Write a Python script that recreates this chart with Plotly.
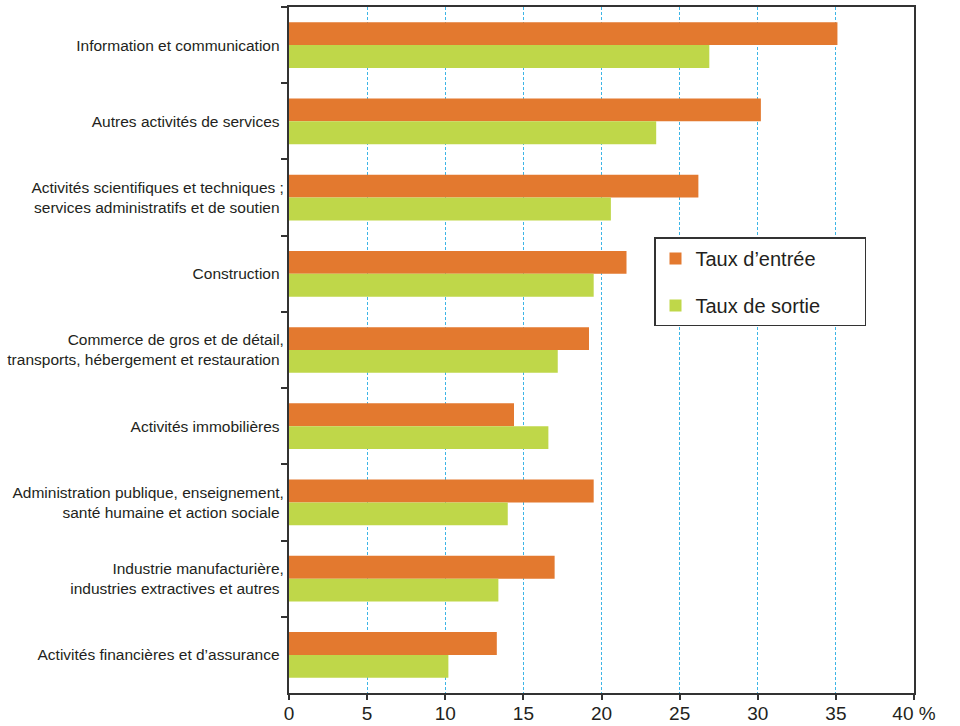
import plotly.graph_objects as go

categories = [
    "Information et communication",
    "Autres activités de services",
    "Activités scientifiques et techniques ;<br>services administratifs et de soutien",
    "Construction",
    "Commerce de gros et de détail,<br>transports, hébergement et restauration",
    "Activités immobilières",
    "Administration publique, enseignement,<br>santé humaine et action sociale",
    "Industrie manufacturière,<br>industries extractives et autres",
    "Activités financières et d’assurance",
]
taux_entree = [35.1, 30.2, 26.2, 21.6, 19.2, 14.4, 19.5, 17.0, 13.3]
taux_sortie = [26.9, 23.5, 20.6, 19.5, 17.2, 16.6, 14.0, 13.4, 10.2]
tick_vals = [0, 5, 10, 15, 20, 25, 30, 35, 40]
tick_text = ["0", "5", "10", "15", "20", "25", "30", "35", "40 %"]

FONT = "Liberation Sans Narrow, Arial Narrow, Liberation Sans, Arial, sans-serif"
PAD = "\u00a0" * 7

fig = go.Figure()
fig.add_trace(go.Bar(y=categories, x=taux_entree, orientation="h", name="Taux d’entrée" + PAD,
                     legendgroup="e",
                     marker=dict(color="#E3792F", line=dict(width=0))))
fig.add_trace(go.Bar(y=categories, x=taux_sortie, orientation="h", name="Taux de sortie" + PAD,
                     legendgroup="s",
                     marker=dict(color="#BFD749", line=dict(width=0))))

fig.update_layout(
    width=960, height=726,
    margin=dict(l=289, r=46, t=7, b=33),
    paper_bgcolor="white", plot_bgcolor="white",
    barmode="group", bargap=0.4, bargroupgap=0,
    font=dict(family=FONT, color="#231F20"),
    legend=dict(x=0.584, y=0.664, xanchor="left", yanchor="top",
                bgcolor="white", bordercolor="#333333", borderwidth=1.5,
                font=dict(size=20, family=FONT, color="#231F20"),
                itemwidth=30, tracegroupgap=18),
    showlegend=True,
)
fig.update_xaxes(
    range=[0, 40], tickvals=tick_vals, ticktext=tick_text,
    showgrid=True, gridcolor="#3DB5E6", griddash="3px,2px", gridwidth=1,
    showline=True, linecolor="#333333", linewidth=2, mirror=True,
    ticks="outside", ticklen=5, tickcolor="#333333", tickwidth=1.5,
    tickfont=dict(size=19, family=FONT, color="#231F20"),
    ticklabelstandoff=-3,
    zeroline=False, automargin=False,
)
fig.update_yaxes(
    autorange="reversed", tickson="boundaries",
    showline=True, linecolor="#333333", linewidth=2, mirror=True,
    ticks="outside", ticklen=6, tickcolor="#333333", tickwidth=1.5,
    tickfont=dict(size=15.5, family=FONT, color="#231F20"),
    showgrid=False, ticksuffix=" ", automargin=False,
)
fig.write_html("out.html", config={"displayModeBar": False},
               post_script="document.body.style.margin='0';")
